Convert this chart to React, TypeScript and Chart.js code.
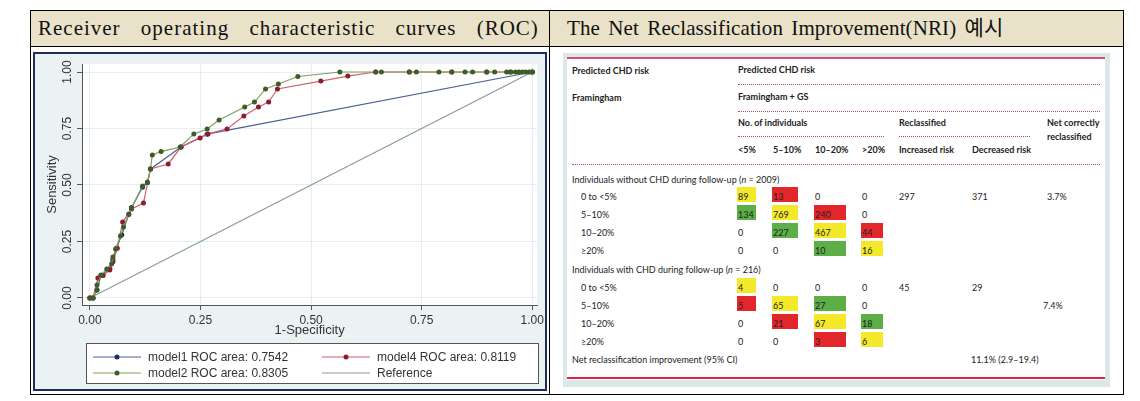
import React, { useEffect, useRef } from 'react';
import { Chart, registerables } from 'chart.js';

Chart.register(...registerables);

// ---------- ROC data ----------
const xTicks = [0, 0.25, 0.5, 0.75, 1];
const yTicks = [0, 0.25, 0.5, 0.75, 1];

const model1X = [0, 0.007, 0.016, 0.025, 0.045, 0.052, 0.060, 0.072, 0.088, 0.094, 0.119, 0.130, 0.137, 0.206, 0.265, 1];
const model1Y = [0, 0, 0.035, 0.100, 0.130, 0.170, 0.220, 0.280, 0.370, 0.400, 0.490, 0.510, 0.571, 0.668, 0.725, 1];

const model2X = [0, 0.007, 0.016, 0.016, 0.025, 0.038, 0.049, 0.052, 0.058, 0.069, 0.076, 0.088, 0.094, 0.119, 0.130, 0.137, 0.141, 0.161, 0.204, 0.235, 0.265, 0.292, 0.350, 0.372, 0.397, 0.426, 0.470, 0.565, 0.646, 0.659, 0.722, 0.738, 0.789, 0.818, 0.848, 0.865, 0.897, 0.915, 0.942, 0.952, 0.962, 0.970, 0.978, 0.985, 0.993, 1];
const model2Y = [0, 0, 0.035, 0.058, 0.102, 0.128, 0.150, 0.181, 0.217, 0.274, 0.314, 0.372, 0.398, 0.496, 0.513, 0.571, 0.633, 0.648, 0.668, 0.726, 0.748, 0.788, 0.845, 0.867, 0.925, 0.947, 0.980, 1, 1, 1, 1, 1, 1, 1, 1, 1, 1, 1, 1, 1, 1, 1, 1, 1, 1, 1];

const model4X = [0, 0.007, 0.018, 0.030, 0.045, 0.052, 0.062, 0.074, 0.094, 0.121, 0.137, 0.177, 0.206, 0.249, 0.267, 0.310, 0.348, 0.381, 0.404, 0.424, 0.522, 0.583, 0.646, 0.722, 0.818, 0.897, 0.950, 1];
const model4Y = [0, 0, 0.088, 0.100, 0.124, 0.160, 0.220, 0.336, 0.394, 0.420, 0.571, 0.593, 0.668, 0.708, 0.726, 0.748, 0.805, 0.845, 0.867, 0.925, 0.960, 0.982, 1, 1, 1, 1, 1, 1];

const referenceX = [0, 1];
const referenceY = [0, 1];

const seriesLabels = ['model1 ROC area: 0.7542', 'model2 ROC area: 0.8305', 'model4 ROC area: 0.8119', 'Reference'];

// ---------- NRI table data ----------
const nriRiskCols = ['<5%', '5\u201310%', '10\u201320%', '>20%'];
const nriRowLabels = ['0 to <5%', '5\u201310%', '10\u201320%', '\u226520%'];
const noEventCounts = [[89, 13, 0, 0], [134, 769, 240, 0], [0, 227, 467, 44], [0, 0, 10, 16]];
const noEventColors = [['y', 'r', '', ''], ['g', 'y', 'r', ''], ['', 'g', 'y', 'r'], ['', '', 'g', 'y']];
const eventCounts = [[4, 0, 0, 0], [5, 65, 27, 0], [0, 21, 67, 18], [0, 0, 3, 6]];
const eventColors = [['y', '', '', ''], ['r', 'y', 'g', ''], ['', 'r', 'y', 'g'], ['', '', 'r', 'y']];
const noEventReclass = ['297', '371', '3.7%'];
const eventReclass = ['45', '29', '7.4%'];
const nriOverall = '11.1% (2.9\u201319.4)';

const pts = (xs: number[], ys: number[]) => xs.map((x, i) => ({ x, y: ys[i] }));

const SANS = '"Liberation Sans", Arial, sans-serif';

const legendLayout = [
  { ds: 0, col: 0, row: 0 },
  { ds: 2, col: 1, row: 0 },
  { ds: 1, col: 0, row: 1 },
  { ds: 3, col: 1, row: 1 },
];

const stataPlugin = {
  id: 'stataLook',
  beforeDraw(chart: any) {
    const { ctx, chartArea: ca, width, height } = chart;
    ctx.save();
    ctx.fillStyle = '#eaf2f3';
    ctx.fillRect(0, 0, width, height);
    ctx.fillStyle = '#ffffff';
    ctx.fillRect(ca.left, ca.top, ca.right - ca.left, ca.bottom - ca.top);
    ctx.restore();
  },
  afterDraw(chart: any) {
    const { ctx, width, height } = chart;
    const ys = chart.scales.y;
    ctx.save();
    // y tick labels (rotated, Stata style)
    ctx.font = `12px ${SANS}`;
    ctx.fillStyle = '#333';
    ctx.textAlign = 'center';
    ctx.textBaseline = 'middle';
    yTicks.forEach((v) => {
      const py = ys.getPixelForValue(v);
      ctx.save();
      ctx.translate(35, py);
      ctx.rotate(-Math.PI / 2);
      ctx.fillText(v.toFixed(2), 0, 0);
      ctx.restore();
    });
    // legend box
    const bx = 53, by = 291, bw = 452, bh = 40;
    ctx.fillStyle = '#ffffff';
    ctx.fillRect(bx, by, bw, bh);
    ctx.strokeStyle = '#555';
    ctx.lineWidth = 1;
    ctx.strokeRect(bx + 0.5, by + 0.5, bw, bh);
    const colX = [60, 289];
    const rowY = [305, 321];
    ctx.textAlign = 'left';
    legendLayout.forEach(({ ds, col, row }) => {
      const d = chart.data.datasets[ds];
      const x0 = colX[col];
      const y0 = rowY[row];
      ctx.strokeStyle = d.borderColor;
      ctx.lineWidth = 1.2;
      ctx.beginPath();
      ctx.moveTo(x0, y0);
      ctx.lineTo(x0 + 48, y0);
      ctx.stroke();
      if (d.pointRadius > 0) {
        ctx.fillStyle = d.pointBackgroundColor;
        ctx.beginPath();
        ctx.arc(x0 + 24, y0, 2.5, 0, Math.PI * 2);
        ctx.fill();
      }
      ctx.fillStyle = '#333';
      ctx.fillText(d.label, x0 + 55, y0 + 1);
    });
    // graph region border
    ctx.strokeStyle = '#1f2d5a';
    ctx.lineWidth = 2;
    ctx.strokeRect(1, 1, width - 2, height - 2);
    ctx.restore();
  },
};

function RocChart() {
  const ref = useRef<HTMLCanvasElement | null>(null);
  useEffect(() => {
    if (!ref.current) return;
    const gridCfg = { color: '#e7eeee', lineWidth: 1, drawTicks: true, tickLength: 5, tickColor: '#555' };
    const chart = new Chart(ref.current, {
      type: 'line',
      data: {
        datasets: [
          {
            label: seriesLabels[0], data: pts(model1X, model1Y), borderColor: '#4a6196', backgroundColor: '#1a2f66',
            pointBackgroundColor: '#1a2f66', pointRadius: 2.5, pointBorderWidth: 0, borderWidth: 1.2, order: 2,
          },
          {
            label: seriesLabels[1], data: pts(model2X, model2Y), borderColor: '#7f9f5e', backgroundColor: '#3d5c27',
            pointBackgroundColor: '#3d5c27', pointRadius: 2.5, pointBorderWidth: 0, borderWidth: 1.2, order: 0,
          },
          {
            label: seriesLabels[2], data: pts(model4X, model4Y), borderColor: '#d0606c', backgroundColor: '#8c1c2c',
            pointBackgroundColor: '#8c1c2c', pointRadius: 2.5, pointBorderWidth: 0, borderWidth: 1.2, order: 1,
          },
          {
            label: seriesLabels[3], data: pts(referenceX, referenceY), borderColor: '#8a9c9c', backgroundColor: '#8a9c9c',
            pointBackgroundColor: '#8a9c9c', pointRadius: 0, borderWidth: 1.2, order: 3,
          },
        ],
      },
      options: {
        animation: false,
        responsive: false,
        maintainAspectRatio: false,
        parsing: false as any,
        layout: { padding: { top: 12, right: 6, left: 0, bottom: 0 } },
        plugins: { legend: { display: false }, tooltip: { enabled: false } },
        scales: {
          x: {
            type: 'linear', min: -0.0179, max: 1.0112,
            afterBuildTicks: (s: any) => { s.ticks = xTicks.map((v) => ({ value: v })); },
            afterFit: (s: any) => { s.height = 86; },
            ticks: { callback: (v: any) => Number(v).toFixed(2), font: { family: SANS, size: 12 }, color: '#333', padding: 3, maxRotation: 0, autoSkip: false },
            grid: gridCfg,
            border: { color: '#555', width: 1 },
            title: { display: true, text: '1-Specificity', font: { family: SANS, size: 13 }, color: '#333', padding: { top: 0, bottom: 53 } },
          },
          y: {
            type: 'linear', min: -0.031, max: 1.0354,
            afterBuildTicks: (s: any) => { s.ticks = yTicks.map((v) => ({ value: v })); },
            afterFit: (s: any) => { s.width = 49; },
            ticks: { display: false },
            grid: gridCfg,
            border: { color: '#555', width: 1 },
            title: { display: true, text: 'Sensitivity', font: { family: SANS, size: 13 }, color: '#333', padding: { top: 12, bottom: 0 } },
          },
        },
      } as any,
      plugins: [stataPlugin],
    });
    return () => chart.destroy();
  }, []);
  return <canvas ref={ref} width={514} height={339} style={{ position: 'absolute', left: 33, top: 52, width: 514, height: 339 }} />;
}

const cellColor: Record<string, string> = { y: '#f3e82a', r: '#e3262b', g: '#5cae46', '': 'transparent' };

function NriTable() {
  const OX = 567, OY = 57; // inner white origin on page
  const font = 'Lato, "Noto Sans", sans-serif';
  const txt = (s: React.ReactNode, x: number, y: number, bold = false, key?: string) => (
    <div key={key} style={{ position: 'absolute', left: x - OX, top: y - OY - 6, height: 12, lineHeight: '12px', fontSize: 9, fontWeight: bold ? 700 : 400, color: '#222', whiteSpace: 'nowrap', fontFamily: font }}>{s}</div>
  );
  const dots = (x1: number, x2: number, y: number, key: string) => (
    <div key={key} style={{ position: 'absolute', left: x1 - OX, top: y - OY, width: x2 - x1, height: 0, borderTop: '1px dotted #a0506c' }} />
  );
  const colLeft = [737, 772, 814, 861];
  const colW = [19, 26, 32, 22];
  const grid = (counts: number[][], colors: string[][], y0: number, pre: string) =>
    counts.flatMap((row, r) => {
      const yc = y0 + r * 18;
      const items: React.ReactNode[] = [txt(nriRowLabels[r], 581, yc, false, `${pre}l${r}`)];
      row.forEach((v, c) => {
        items.push(
          <div key={`${pre}c${r}${c}`} style={{ position: 'absolute', left: colLeft[c] - OX, top: yc - 10 - OY, width: colW[c], height: 15, background: cellColor[colors[r][c]] }} />
        );
        items.push(txt(String(v), colLeft[c] + 1, yc, false, `${pre}t${r}${c}`));
      });
      return items;
    });
  return (
    <div style={{ position: 'absolute', left: 563, top: 53, width: 547, height: 334, background: '#dbe7e9' }}>
      <div style={{ position: 'absolute', left: 4, top: 4, width: 538, height: 323, background: '#fff', overflow: 'hidden' }}>
        <div style={{ position: 'absolute', left: 0, top: 0, width: 538, height: 2, background: '#d64d72' }} />
        <div style={{ position: 'absolute', left: 0, top: 320, width: 538, height: 2, background: '#de2448' }} />
        {txt('Predicted CHD risk', 572, 71, true, 'h1')}
        {txt('Predicted CHD risk', 738, 70, true, 'h2')}
        {dots(738, 1100, 84, 'd1')}
        {txt('Framingham', 572, 98, true, 'h3')}
        {txt('Framingham + GS', 738, 97, true, 'h4')}
        {dots(738, 1100, 111, 'd2')}
        {txt('No. of individuals', 738, 123, true, 'h5')}
        {txt('Reclassified', 899, 123, true, 'h6')}
        {txt('Net correctly', 1047, 123, true, 'h7')}
        {txt('reclassified', 1047, 137, true, 'h8')}
        {dots(738, 884, 136, 'd3')}
        {dots(899, 1030, 136, 'd4')}
        {nriRiskCols.map((c, i) => txt(c, colLeft[i] + 1, 150, true, `rc${i}`))}
        {txt('Increased risk', 899, 150, true, 'ir')}
        {txt('Decreased risk', 972, 150, true, 'dr')}
        {dots(572, 1100, 164, 'd5')}
        {txt(<span>Individuals without CHD during follow-up (<i>n</i> = 2009)</span>, 572, 180, false, 'g1')}
        {grid(noEventCounts, noEventColors, 197, 'a')}
        {txt(noEventReclass[0], 899, 197, false, 'n1')}
        {txt(noEventReclass[1], 972, 197, false, 'n2')}
        {txt(noEventReclass[2], 1047, 197, false, 'n3')}
        {txt(<span>Individuals with CHD during follow-up (<i>n</i> = 216)</span>, 572, 270, false, 'g2')}
        {grid(eventCounts, eventColors, 288, 'b')}
        {txt(eventReclass[0], 899, 288, false, 'e1')}
        {txt(eventReclass[1], 972, 288, false, 'e2')}
        {txt(eventReclass[2], 1043, 306, false, 'e3')}
        {txt('Net reclassification improvement (95% CI)', 572, 360, false, 'nri')}
        {txt(nriOverall, 971, 360, false, 'nriv')}
      </div>
    </div>
  );
}

export default function App() {
  const serif = '"Liberation Serif", "Noto Sans CJK KR", serif';
  const line = (l: number, t: number, w: number, h: number, k: string) => (
    <div key={k} style={{ position: 'absolute', left: l, top: t, width: w, height: h, background: '#000' }} />
  );
  return (
    <div style={{ position: 'absolute', left: 0, top: 0, width: 1140, height: 401, background: '#fff', overflow: 'hidden' }}>
      <div style={{ position: 'absolute', left: 30, top: 10, width: 1093, height: 36, background: '#e9e2c9' }} />
      <div style={{ position: 'absolute', left: 38, top: 10, height: 36, lineHeight: '36px', fontFamily: serif, fontSize: 21, letterSpacing: 1, wordSpacing: 14, color: '#111', whiteSpace: 'nowrap' }}>
        Receiver operating characteristic curves (ROC)
      </div>
      <div style={{ position: 'absolute', left: 567, top: 10, height: 36, lineHeight: '36px', fontFamily: serif, fontSize: 21, letterSpacing: 0.1, wordSpacing: 3, color: '#111', whiteSpace: 'nowrap' }}>
        The Net Reclassification Improvement(NRI) 예시
      </div>
      <RocChart />
      <NriTable />
      {line(30, 10, 1094, 1, 't')}
      {line(30, 46, 1094, 1, 'h')}
      {line(30, 394, 1094, 1, 'b')}
      {line(30, 10, 1, 385, 'l')}
      {line(1123, 10, 1, 385, 'r')}
      {line(549, 10, 1, 385, 'm')}
    </div>
  );
}
